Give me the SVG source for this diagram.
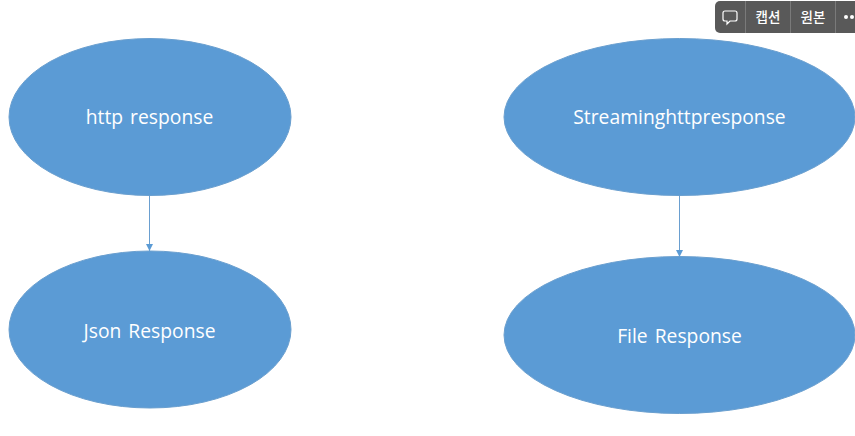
<svg xmlns="http://www.w3.org/2000/svg" width="855" height="436" viewBox="0 0 855 436">
<style>
.e{fill:#5b9bd5;stroke:#6a9fcf;stroke-width:1}
.t{font-family:"Open Sans","Noto Sans",sans-serif;font-size:19.300px;word-spacing:2px;fill:#fff;text-anchor:middle}
.c{stroke:#6a9fd0;stroke-width:1;fill:none;marker-end:url(#a)}
.k{font-family:"Noto Sans CJK KR",sans-serif;font-size:13.500px;font-weight:500;fill:#fff;text-anchor:middle}
.d{stroke:#7a7a7a;stroke-width:1}
</style>
<defs><marker id="a" markerUnits="userSpaceOnUse" markerWidth="8" markerHeight="7" refX="7" refY="3.500" orient="auto"><path d="M0 0L7 3.500L0 7Z" fill="#5b9bd5"/></marker></defs>
<rect width="855" height="436" fill="#fff"/>
<g id="connectors">
<path class="c" d="M149.500 195V251"/>
<path class="c" d="M679.500 195V257"/>
</g>
<g id="n1"><ellipse class="e" cx="150" cy="117" rx="141" ry="78.500"/><text class="t" x="149.500" y="124">http response</text></g>
<g id="n2"><ellipse class="e" cx="150" cy="329.500" rx="141" ry="78.500"/><text class="t" x="149.500" y="337.500">Json Response</text></g>
<g id="n3"><ellipse class="e" cx="679.500" cy="117" rx="175.500" ry="78.500"/><text class="t" x="679.500" y="124">Streaminghttpresponse</text></g>
<g id="n4"><ellipse class="e" cx="679.500" cy="335" rx="175.500" ry="78.500"/><text class="t" x="679.500" y="343">File Response</text></g>
<g id="toolbar">
<path d="M855 1H720a5 5 0 0 0-5 5V28a5 5 0 0 0 5 5H855Z" fill="#595959"/>
<path class="d" d="M745.500 1V33M790.500 1V33M835.500 1V33"/>
<path d="M725 11h10a2 2 0 0 1 2 2v6a2 2 0 0 1-2 2h-5l-3 3v-3h-2a2 2 0 0 1-2-2v-6a2 2 0 0 1 2-2Z" fill="none" stroke="#fff" stroke-width="1.200"/>
<text class="k" x="768" y="22">캡션</text>
<text class="k" x="813" y="22">원본</text>
<circle cx="846" cy="17" r="2" fill="#fff"/><circle cx="852" cy="17" r="2" fill="#fff"/>
</g>
</svg>
